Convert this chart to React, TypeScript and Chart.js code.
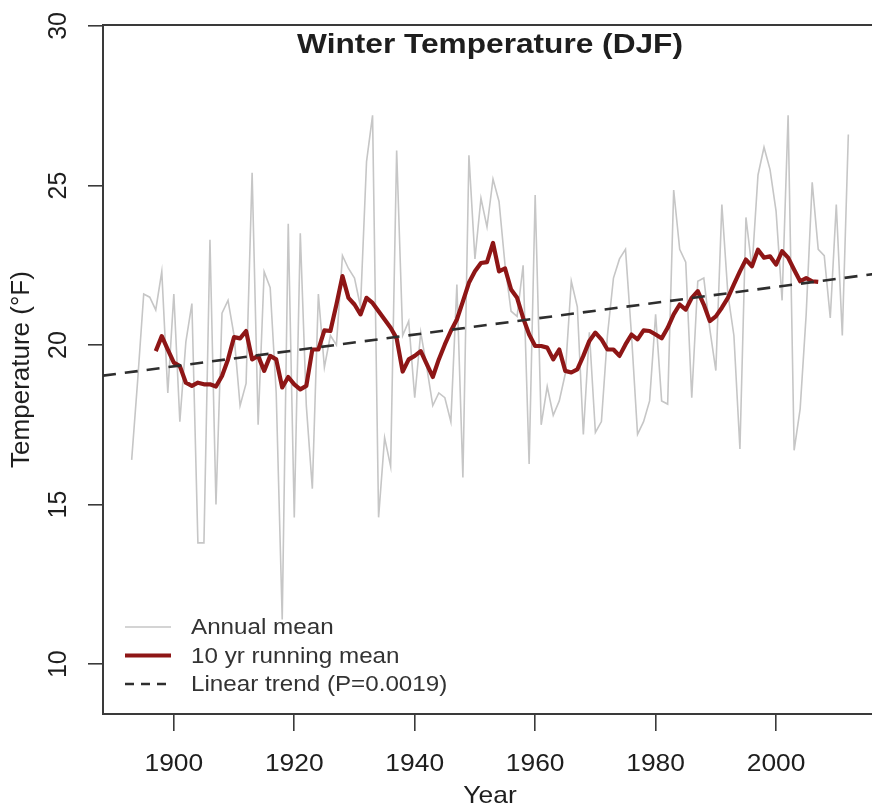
import React, { useEffect, useRef } from "react";
import { Chart, registerables } from "chart.js";

Chart.register(...registerables);

// ---- data ----
const annualYears = [
  1893, 1894, 1895, 1896, 1897, 1898, 1899,
  1900, 1901, 1902, 1903, 1904, 1905, 1906, 1907, 1908, 1909,
  1910, 1911, 1912, 1913, 1914, 1915, 1916, 1917, 1918, 1919,
  1920, 1921, 1922, 1923, 1924, 1925, 1926, 1927, 1928, 1929,
  1930, 1931, 1932, 1933, 1934, 1935, 1936, 1937, 1938, 1939,
  1940, 1941, 1942, 1943, 1944, 1945, 1946, 1947, 1948, 1949,
  1950, 1951, 1952, 1953, 1954, 1955, 1956, 1957, 1958, 1959,
  1960, 1961, 1962, 1963, 1964, 1965, 1966, 1967, 1968, 1969,
  1970, 1971, 1972, 1973, 1974, 1975, 1976, 1977, 1978, 1979,
  1980, 1981, 1982, 1983, 1984, 1985, 1986, 1987, 1988, 1989,
  1990, 1991, 1992, 1993, 1994, 1995, 1996, 1997, 1998, 1999,
  2000, 2001, 2002, 2003, 2004, 2005, 2006, 2007, 2008, 2009,
  2010, 2011, 2012,
];
const annualMean = [
  16.4, 18.9, 21.6, 21.5, 21.1, 22.3, 18.5,
  21.6, 17.6, 20.1, 21.3, 13.8, 13.8, 23.3, 15.0, 21.0, 21.4,
  20.3, 18.1, 18.8, 25.4, 17.5, 22.3, 21.8, 18.5, 11.4, 23.8,
  14.6, 23.5, 18.1, 15.5, 21.6, 19.3, 20.3, 20.0, 22.8, 22.4,
  22.1, 21.2, 25.75, 27.2, 14.6, 17.1, 16.2, 26.1, 20.3, 20.75,
  18.35, 20.4, 19.3, 18.1, 18.5, 18.35, 17.6, 21.9, 15.85, 25.95,
  22.7, 24.6, 23.7, 25.2, 24.5, 22.5, 21.06, 20.9, 22.5, 16.27,
  24.7, 17.5, 18.7, 17.8, 18.25, 19.1, 22.0, 21.2, 17.2, 20.4,
  17.26, 17.6, 20.3, 22.1, 22.7, 23.0, 20.3, 17.2, 17.6, 18.25,
  20.96, 18.25, 18.15, 24.86, 23.0, 22.6, 18.35, 22.0, 22.1, 20.5,
  19.2, 24.4, 21.6, 20.3, 16.74, 24.0, 22.4, 25.33, 26.2, 25.5,
  24.2, 21.4, 27.2, 16.7, 18.0, 20.96, 25.1, 23.0, 22.8, 20.85,
  24.4, 20.3, 26.6,
];

const runningYears = [
  1897, 1898, 1899,
  1900, 1901, 1902, 1903, 1904, 1905, 1906, 1907, 1908, 1909,
  1910, 1911, 1912, 1913, 1914, 1915, 1916, 1917, 1918, 1919,
  1920, 1921, 1922, 1923, 1924, 1925, 1926, 1927, 1928, 1929,
  1930, 1931, 1932, 1933, 1934, 1935, 1936, 1937, 1938, 1939,
  1940, 1941, 1942, 1943, 1944, 1945, 1946, 1947, 1948, 1949,
  1950, 1951, 1952, 1953, 1954, 1955, 1956, 1957, 1958, 1959,
  1960, 1961, 1962, 1963, 1964, 1965, 1966, 1967, 1968, 1969,
  1970, 1971, 1972, 1973, 1974, 1975, 1976, 1977, 1978, 1979,
  1980, 1981, 1982, 1983, 1984, 1985, 1986, 1987, 1988, 1989,
  1990, 1991, 1992, 1993, 1994, 1995, 1996, 1997, 1998, 1999,
  2000, 2001, 2002, 2003, 2004, 2005, 2006, 2007,
];
const runningMean = [
  19.81, 20.28, 19.86,
  19.45, 19.34, 18.82, 18.72, 18.82, 18.77, 18.77, 18.7, 19.03, 19.55,
  20.25, 20.21, 20.44, 19.55, 19.66, 19.19, 19.66, 19.55, 18.67, 19.0,
  18.77, 18.61, 18.72, 19.86, 19.86, 20.46, 20.44, 21.27, 22.16, 21.48,
  21.27, 20.96, 21.48, 21.32, 21.06, 20.8, 20.54, 20.21, 19.17, 19.55,
  19.66, 19.81, 19.4, 19.0, 19.55, 20.02, 20.44, 20.8, 21.37, 21.95,
  22.31, 22.57, 22.6, 23.2, 22.31, 22.4, 21.74, 21.48, 20.85, 20.33,
  19.97, 19.97, 19.92, 19.55, 19.86, 19.19, 19.14, 19.24, 19.66, 20.13,
  20.39, 20.18, 19.86, 19.86, 19.66, 20.02, 20.33, 20.18, 20.46, 20.44,
  20.33, 20.21, 20.54, 20.96, 21.27, 21.11, 21.48, 21.69, 21.27, 20.75,
  20.9, 21.17, 21.48, 21.9, 22.31, 22.68, 22.47, 22.99, 22.74, 22.78,
  22.52, 22.94, 22.74, 22.36, 22.0, 22.1, 22.0, 21.98,
];

const trendYears = [1888.24, 2016.76];
const trendValues = [19.04, 22.24];

const xTickLabels = [1900, 1920, 1940, 1960, 1980, 2000];
const yTickLabels = [10, 15, 20, 25, 30];

const chartTitle = "Winter Temperature (DJF)";
const xTitle = "Year";
const yTitle = "Temperature (°F)";
const legendLabels = ["Annual mean", "10 yr running mean", "Linear trend (P=0.0019)"];

// ---- style ----
const FONT = "'Liberation Sans', Arial, Helvetica, sans-serif";
const AXIS = "#3a3a3a";
const TEXT = "#1e1e1e";
const GRAY = "#c6c6c6";
const RED = "#8e1616";
const TREND = "#2e2e2e";
const TREND_DASH = [13, 9];

const W = 900;
const H = 804;

function stretchedText(ctx: any, text: string, x: number, y: number, sx: number) {
  ctx.save();
  ctx.translate(x, y);
  ctx.scale(sx, 1);
  ctx.fillText(text, 0, 0);
  ctx.restore();
}

const decorPlugin = {
  id: "decor",
  afterDraw(chart: any) {
    const { ctx, chartArea: a } = chart;
    const x = chart.scales.x;
    const y = chart.scales.y;
    ctx.save();

    // box top edge
    ctx.strokeStyle = AXIS;
    ctx.lineWidth = 2;
    ctx.beginPath();
    ctx.moveTo(a.left, a.top);
    ctx.lineTo(a.right + 20, a.top);
    ctx.stroke();

    ctx.fillStyle = TEXT;
    // x tick labels
    ctx.font = `24px ${FONT}`;
    ctx.textAlign = "center";
    ctx.textBaseline = "middle";
    x.ticks.forEach((t: any) => {
      stretchedText(ctx, String(t.value), x.getPixelForValue(t.value), a.bottom + 50, 1.1);
    });
    // x title
    stretchedText(ctx, xTitle, (a.left + a.right) / 2, a.bottom + 82, 1.1);

    // y tick labels (rotated)
    ctx.font = `25px ${FONT}`;
    y.ticks.forEach((t: any) => {
      ctx.save();
      ctx.translate(a.left - 44, y.getPixelForValue(t.value));
      ctx.rotate(-Math.PI / 2);
      ctx.fillText(String(t.value), 0, 0);
      ctx.restore();
    });
    // y title
    ctx.font = `26px ${FONT}`;
    ctx.save();
    ctx.translate(a.left - 81, (a.top + a.bottom) / 2);
    ctx.rotate(-Math.PI / 2);
    ctx.fillText(yTitle, 0, 0);
    ctx.restore();

    // main title
    ctx.font = `bold 28px ${FONT}`;
    ctx.textBaseline = "alphabetic";
    stretchedText(ctx, chartTitle, (a.left + a.right) / 2, a.top + 28, 1.13);

    // legend (bottom-left inside plot)
    const ds = chart.data.datasets;
    const order = [2, 1, 0];
    ctx.font = `22px ${FONT}`;
    ctx.textAlign = "left";
    ctx.textBaseline = "middle";
    order.forEach((di, row) => {
      const d = ds[di];
      const cy = a.bottom - 87 + row * 28.5;
      ctx.save();
      ctx.strokeStyle = d.borderColor;
      ctx.lineWidth = d.borderWidth;
      ctx.setLineDash(di === 0 ? [9, 7] : []);
      ctx.beginPath();
      ctx.moveTo(a.left + 22, cy);
      ctx.lineTo(a.left + 68, cy);
      ctx.stroke();
      ctx.restore();
      ctx.fillStyle = "#333";
      stretchedText(ctx, d.label, a.left + 88, cy + 1, 1.1);
    });

    ctx.restore();
  },
};

export default function App() {
  const ref = useRef<HTMLCanvasElement | null>(null);

  useEffect(() => {
    if (!ref.current) return;
    const chart = new Chart(ref.current, {
      type: "line",
      data: {
        datasets: [
          {
            label: legendLabels[2],
            data: trendYears.map((yr, i) => ({ x: yr, y: trendValues[i] })),
            borderColor: TREND,
            borderWidth: 2.6,
            borderDash: TREND_DASH,
            pointRadius: 0,
            fill: false,
            tension: 0,
          },
          {
            label: legendLabels[1],
            data: runningYears.map((yr, i) => ({ x: yr, y: runningMean[i] })),
            borderColor: RED,
            borderWidth: 4.2,
            pointRadius: 0,
            fill: false,
            tension: 0,
            borderJoinStyle: "round",
          },
          {
            label: legendLabels[0],
            data: annualYears.map((yr, i) => ({ x: yr, y: annualMean[i] })),
            borderColor: GRAY,
            borderWidth: 1.6,
            pointRadius: 0,
            fill: false,
            tension: 0,
          },
        ],
      },
      options: {
        responsive: false,
        animation: false,
        devicePixelRatio: 1,
        layout: { padding: { top: 25, left: 0, right: W - 877, bottom: 0 } },
        plugins: {
          legend: { display: false },
          tooltip: { enabled: false },
          title: { display: false },
        },
        scales: {
          x: {
            type: "linear",
            min: 1888.24,
            max: 2016.76,
            afterBuildTicks: (s: any) => {
              s.ticks = xTickLabels.map((v) => ({ value: v }));
            },
            afterFit: (s: any) => {
              s.height = H - 714;
            },
            ticks: { display: false },
            grid: {
              drawOnChartArea: false,
              drawTicks: true,
              tickLength: 17,
              tickColor: AXIS,
              lineWidth: 1.6,
            },
            border: { display: true, color: AXIS, width: 2 },
          },
          y: {
            type: "linear",
            min: 8.4375,
            max: 30.03,
            afterBuildTicks: (s: any) => {
              s.ticks = yTickLabels.map((v) => ({ value: v }));
            },
            afterFit: (s: any) => {
              s.width = 103;
            },
            ticks: { display: false },
            grid: {
              drawOnChartArea: false,
              drawTicks: true,
              tickLength: 15,
              tickColor: AXIS,
              lineWidth: 1.6,
            },
            border: { display: true, color: AXIS, width: 2 },
          },
        },
      },
      plugins: [decorPlugin],
    } as any);
    return () => chart.destroy();
  }, []);

  return (
    <div
      style={{
        position: "absolute",
        left: 0,
        top: 0,
        width: 872,
        height: 804,
        overflow: "hidden",
        background: "#fff",
      }}
    >
      <canvas ref={ref} width={W} height={H} style={{ display: "block", width: W, height: H }} />
    </div>
  );
}
